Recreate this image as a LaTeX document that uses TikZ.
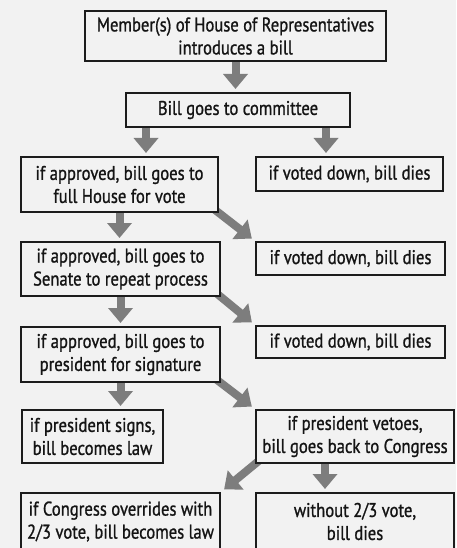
\documentclass[tikz,border=0pt]{standalone}
\usepackage{fontspec}
\setmainfont[FakeStretch=0.84,FakeBold=1.0]{PT Sans}
\usetikzlibrary{arrows.meta,calc}
\definecolor{bgc}{HTML}{F2F2F2}
\definecolor{arrc}{HTML}{7D7D7D}
\definecolor{edgec}{HTML}{1C1C1C}
\definecolor{txtc}{HTML}{141414}
\pgfdeclarelayer{bglayer}
\pgfdeclarelayer{arrlayer}
\pgfsetlayers{bglayer,arrlayer,main}
\tikzset{
  box/.style={draw=edgec, line width=2pt, fill=bgc, align=center, inner sep=0pt,
    font=\fontsize{19.8}{23}\selectfont, text=txtc},
  fat/.style={draw=arrc, line width=8pt, -{Triangle[width=24pt,length=15pt]}},
}
\begin{document}
\begin{tikzpicture}[x=1pt,y=-1pt]
\useasboundingbox (0,0) rectangle (456,548);
\begin{pgfonlayer}{bglayer}
  \fill[bgc] (0,0) rectangle (456,548);
\end{pgfonlayer}
\clip (0,0) rectangle (456,548);

\node[box, minimum width=301pt, minimum height=50pt] (b1) at (235.5,36)
  {Member(s) of House of Representatives\\introduces a bill};
\node[box, minimum width=224pt, minimum height=34pt] (b2) at (238,110)
  {Bill goes to committee};
\node[box, minimum width=197pt, minimum height=55pt] (b3l) at (119.5,184.5)
  {if approved, bill goes to\\full House for vote};
\node[box, minimum width=187pt, minimum height=34pt] (b3r) at (349.5,174)
  {if voted down, bill dies};
\node[box, minimum width=199pt, minimum height=54pt] (b4l) at (120.5,269)
  {if approved, bill goes to\\Senate to repeat process};
\node[box, minimum width=189pt, minimum height=33pt] (b4r) at (350.5,258.5)
  {if voted down, bill dies};
\node[box, minimum width=199pt, minimum height=55pt] (b5l) at (120.5,354.5)
  {if approved, bill goes to\\president for signature};
\node[box, minimum width=189pt, minimum height=32pt] (b5r) at (350.5,342)
  {if voted down, bill dies};
\node[box, minimum width=141pt, minimum height=53pt] (b6l) at (92.5,436.5)
  {if president signs,\\bill becomes law};
\node[box, minimum width=198pt, minimum height=53pt] (b6r) at (355,436.5)
  {if president vetoes,\\bill goes back to Congress};
\node[box, minimum width=199pt, minimum height=57pt] (b7l) at (120.5,521.5)
  {if Congress overrides with\\2/3 vote, bill becomes law};
\node[box, minimum width=198pt, minimum height=57pt] (b7r) at (355,521.5)
  {without 2/3 vote,\\bill dies};

\coordinate (p2l) at ($(b2.south west)+(21,0)$);
\coordinate (p2r) at ($(b2.south east)+(-25,0)$);
\coordinate (p6r) at ($(b6r.south)+(-30,0)$);

\begin{pgfonlayer}{arrlayer}
  \draw[fat, shorten >=3pt] (b1.south) -- (b1.south |- b2.north);
  \draw[fat, shorten >=3pt] (p2l) -- (p2l |- b3l.north);
  \draw[fat, shorten >=3pt] (p2r) -- (p2r |- b3r.north);
  \draw[fat, shorten >=3pt] (b3l.south) -- (b3l.south |- b4l.north);
  \draw[fat, shorten >=4pt] ($(b3l.south east)!-0.35!(b4r.north west)$) -- (b4r.north west);
  \draw[fat, shorten >=3pt] (b4l.south) -- (b4l.south |- b5l.north);
  \draw[fat, shorten >=4pt] ($(b4l.south east)!-0.35!(b5r.north west)$) -- (b5r.north west);
  \draw[fat, shorten >=3pt] (b5l.south) -- (b5l.south |- b6l.north);
  \draw[fat, shorten >=4pt] ($(b5l.south east)!-0.35!(b6r.north west)$) -- (b6r.north west);
  \draw[fat, shorten >=3pt] (p6r) -- (p6r |- b7r.north);
  \draw[fat, shorten >=4pt] ($(b6r.south west)!-0.35!(b7l.north east)$) -- (b7l.north east);
\end{pgfonlayer}
\end{tikzpicture}
\end{document}
